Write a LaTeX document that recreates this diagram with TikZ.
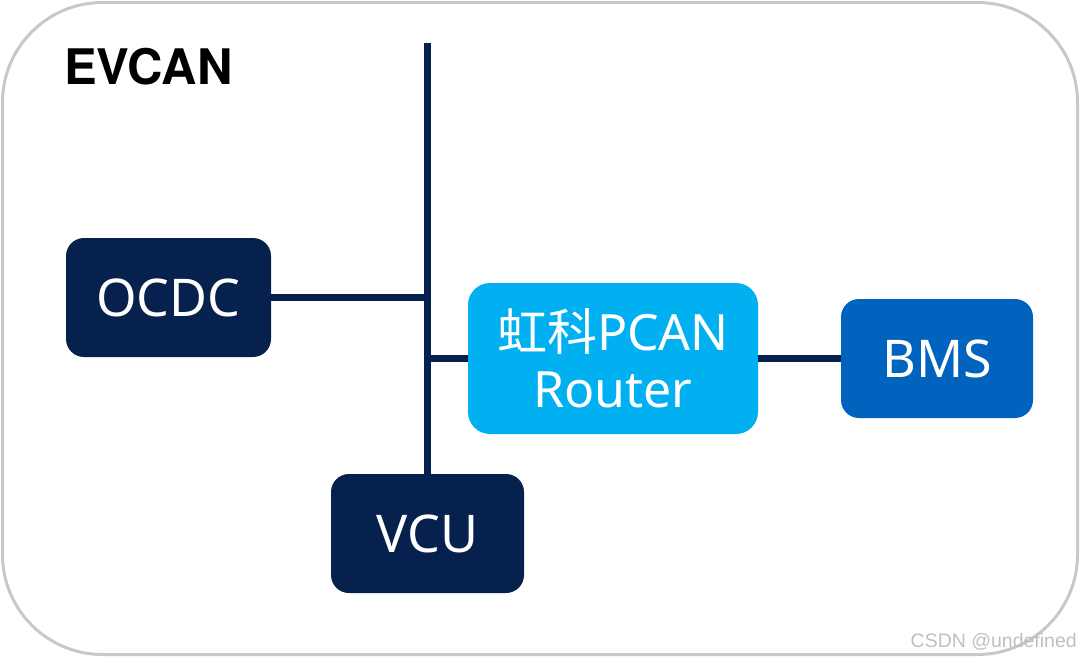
\documentclass[tikz,border=0pt]{standalone}
\usepackage{fontspec}
\setmainfont{Noto Sans}
\newfontfamily\cjk{Noto Sans CJK SC}
\newfontfamily\wmfont{Liberation Sans}
\newfontfamily\titlefont{TeX Gyre Heros}
\definecolor{navy}{HTML}{06214D}
\definecolor{lightblue}{HTML}{00B0F0}
\definecolor{midblue}{HTML}{0063BE}
\definecolor{framegray}{HTML}{C8C8C8}
\tikzset{
  box/.style={draw=none, rounded corners=18pt, inner sep=0pt, align=center,
    text=white, font=\fontsize{52}{57}\selectfont},
  bus/.style={draw=navy, line width=7pt},
}
\begin{document}
\begin{tikzpicture}[x=1pt,y=-1pt]
\useasboundingbox (0,0) rectangle (1080,657);
\draw[framegray, line width=3pt, rounded corners=100pt] (2.5,2.5) rectangle (1077.5,654.5);
\node[anchor=base west, font=\titlefont\bfseries\fontsize{49}{49}\selectfont, inner sep=0pt] (title) at (64,84) {EVCAN};
\node[box, fill=navy, minimum width=205pt, minimum height=119pt] (ocdc) at (168.5,297.5) {OCDC};
\node[box, fill=lightblue, rounded corners=22pt, minimum width=290pt, minimum height=151pt, font=\fontsize{50}{57}\selectfont] (router) at (613,358.5) {{\cjk 虹科}PCAN\\Router};
\node[box, fill=midblue, minimum width=192pt, minimum height=119pt] (bms) at (937,358.5) {BMS};
\node[box, fill=navy, minimum width=193pt, minimum height=119pt] (vcu) at (427.5,533.5) {VCU};
\coordinate (bustop) at (427.5,43);
\draw[bus] (bustop) -- (vcu.north);
\draw[bus] (ocdc.east) -- (ocdc.east -| bustop);
\draw[bus] (router.west -| bustop) -- (router.west);
\draw[bus] (router.east) -- (bms.west);
\node[anchor=base east, text=black!25, font=\wmfont\fontsize{19.5}{19.5}\selectfont, inner sep=0pt] (wm) at (1077,647) {CSDN @undefined};
\end{tikzpicture}
\end{document}
